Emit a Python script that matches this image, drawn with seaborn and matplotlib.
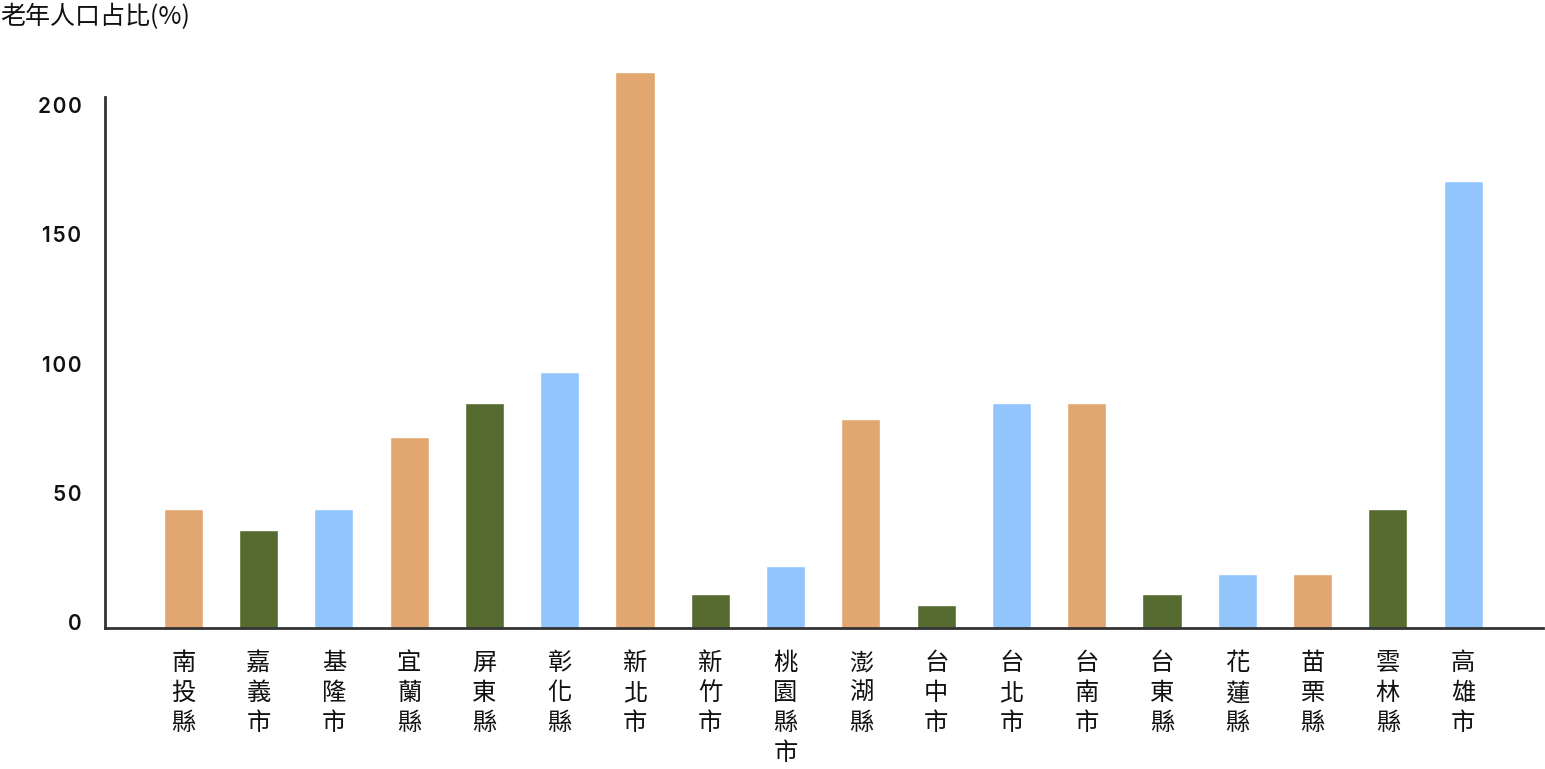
import matplotlib
matplotlib.use("Agg")
import matplotlib.pyplot as plt
import matplotlib.transforms as mtransforms
import pandas as pd
import seaborn as sns

# data
regions = ["南投縣", "嘉義市", "基隆市", "宜蘭縣", "屏東縣", "彰化縣", "新北市", "新竹市", "桃園縣市",
           "澎湖縣", "台中市", "台北市", "台南市", "台東縣", "花蓮縣", "苗栗縣", "雲林縣", "高雄市"]
values = [46, 38, 46, 74, 87, 99, 215, 13, 24, 81, 9, 87, 87, 13, 21, 21, 46, 173]
cycle_colors = ["#E2A670", "#566B30", "#93C5FD"]
y_ticks = [0, 50, 100, 150, 200]

df = pd.DataFrame({"region": regions, "value": values})
palette = {r: cycle_colors[i % 3] for i, r in enumerate(regions)}

sns.set_theme(style="white")
plt.rcParams["font.family"] = ["Noto Sans CJK TC", "DejaVu Sans"]

fig = plt.figure(figsize=(15.45, 7.69), dpi=100)
ax = fig.add_axes([105 / 1545, 1 - 628 / 769, (1543 - 105) / 1545, (628 - 97) / 769])

sns.barplot(data=df, x="region", y="value", hue="region", palette=palette,
            legend=False, width=0.52, saturation=1, ax=ax)
for p in ax.patches:
    p.set_clip_on(False)

ax.set_xlim(-1.04, 18.06)
ax.set_ylim(0, 205.5)
ax.set_yticks(y_ticks)
# spaced digits to mimic the wide tracking of the original labels
ax.set_yticklabels(["\u200a".join(str(t)) for t in y_ticks], fontsize=15, fontweight="semibold",
                   family=["Inter", "DejaVu Sans"], color="#111111")
ax.set_xticks(range(len(regions)))
ax.set_xticklabels(["\n".join(r) for r in regions], fontsize=17.5, linespacing=1.2,
                   color="#111111")
ax.tick_params(axis="y", length=0, pad=17)
ax.tick_params(axis="x", length=0, pad=16)

shift = mtransforms.ScaledTranslation(0, 6 / 100, fig.dpi_scale_trans)
for lbl in ax.get_yticklabels():
    lbl.set_transform(lbl.get_transform() + shift)

ax.set_xlabel("")
ax.set_ylabel("")
for side in ["top", "right"]:
    ax.spines[side].set_visible(False)
for side in ["left", "bottom"]:
    ax.spines[side].set_color("#333333")
    ax.spines[side].set_linewidth(2)

fig.text(0, 1 - 17 / 769, "老年人口占比(%)", fontsize=18, va="center", ha="left",
         color="#111111")

fig.savefig("out.png", dpi=100)
